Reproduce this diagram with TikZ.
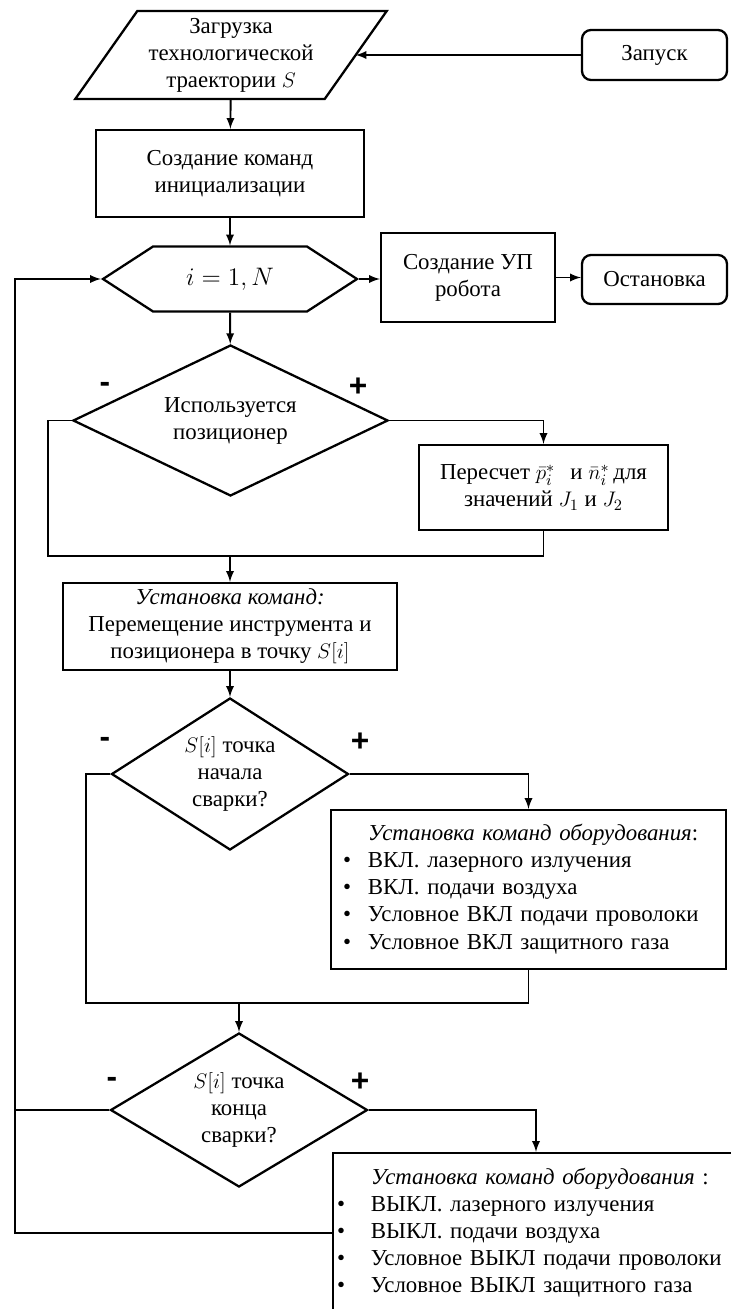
\documentclass[tikz,border=0pt]{standalone}
\usepackage{fontspec}
\setmainfont{Liberation Serif}
\newfontfamily\signfont{Liberation Sans}
\usetikzlibrary{shapes.geometric,shapes.symbols,positioning}

\begin{document}
\begin{tikzpicture}[font=\fontsize{13}{15.4}\selectfont,line width=1.1pt,every node/.style={align=center},block/.style={rectangle,draw,line width=1.3pt},term/.style={rectangle,draw,line width=1.3pt,rounded corners=0.18cm,minimum width=2.9cm},inout/.style={rectangle,minimum width=4.95cm,minimum height=1.72cm,inner sep=0pt},hexa/.style={signal,signal to=east and west,signal pointer angle=66,draw,line width=1.3pt,minimum width=5.08cm,minimum height=1.3cm},decision/.style={diamond,draw,line width=1.3pt,inner sep=0pt},sign/.style={font=\signfont\bfseries\fontsize{18}{18}\selectfont},edge/.style={draw,-latex}]
    \useasboundingbox (0,0) rectangle (14.6,-26.18);
    \node[inout] (load) at (4.62,-1.10) {Загрузка\\технологической\\траектории $S$};
    \draw[line width=1.3pt] ([xshift=0.62cm]load.north west) -- ([xshift=0.62cm]load.north east) -- ([xshift=-0.62cm]load.south east) -- ([xshift=-0.62cm]load.south west) -- cycle;
    \node[term,minimum height=1cm] (start) at (13.09,-1.10) {Запуск};
    \node[block,minimum width=5.36cm,minimum height=1.74cm] (init) at (4.60,-3.47) {Создание команд\\инициализации};
    \node[hexa] (loop) at (4.60,-5.58) {\fontsize{14}{17}\selectfont$i=1,N$};
    \node[block,minimum width=3.48cm,minimum height=1.78cm] (prog) at (9.36,-5.55) {Создание УП\\робота};
    \node[term,minimum height=0.98cm] (stop) at (13.09,-5.59) {Остановка};
    \node[decision,aspect=2.09,minimum width=6.3cm,minimum height=3.02cm] (q1) at (4.61,-8.41) {Используется\\позиционер};
    \node[block,minimum width=4.98cm,minimum height=1.7cm] (recalc) at (10.87,-9.75) {Пересчет $\bar{p}_i^{*}$\,\ \ и $\bar{n}_i^{*}$\,для\\значений $J_1$ и $J_2$};
    \node[block,minimum width=6.68cm,minimum height=1.74cm] (move) at (4.60,-12.53) {\textit{Установка команд:}\\Перемещение инструмента и\\позиционера в точку $S[i]$};
    \node[decision,aspect=1.56,minimum width=4.74cm,minimum height=3.04cm] (q2) at (4.60,-15.48) {$S[i]$ точка\\начала\\сварки?};
    \node[block,minimum width=7.9cm,minimum height=3.18cm,text width=7.42cm,inner xsep=0.24cm,align=left] (on) at (10.57,-17.79) {\begin{tabular}{@{}p{0.5cm}@{}l@{}}
        & \textit{Установка команд оборудования}:\\
        \textbullet & ВКЛ. лазерного излучения\\
        \textbullet & ВКЛ. подачи воздуха\\
        \textbullet & Условное ВКЛ подачи проволоки\\
        \textbullet & Условное ВКЛ защитного газа
    \end{tabular}};
    \node[decision,aspect=1.67,minimum width=5.14cm,minimum height=3.08cm] (q3) at (4.78,-22.2) {$S[i]$ точка\\конца\\сварки?};
    \node[block,minimum width=8.12cm,minimum height=3.2cm,text width=7.96cm,inner xsep=0.08cm,align=left] (off) at (10.72,-24.66) {\begin{tabular}{@{}p{0.68cm}@{}l@{}}
        & \textit{Установка команд оборудования} :\\
        \textbullet & ВЫКЛ. лазерного излучения\\
        \textbullet & ВЫКЛ. подачи воздуха\\
        \textbullet & Условное ВЫКЛ подачи проволоки\\
        \textbullet & Условное ВЫКЛ защитного газа
    \end{tabular}};
    \coordinate (merge1) at (4.60,-11.12);
    \coordinate (merge2) at (4.78,-20.06);
    \coordinate (rail) at (0.30,-22.2);
    \coordinate (back) at (0.30,-24.66);
    \node[sign] (minus1) at (2.10,-7.74) {-};
    \node[sign] (plus1) at (7.16,-7.74) {+};
    \node[sign] (minus2) at (2.10,-14.84) {-};
    \node[sign] (plus2) at (7.20,-14.84) {+};
    \node[sign] (minus3) at (2.24,-21.64) {-};
    \node[sign] (plus3) at (7.20,-21.64) {+};
    \draw[edge] (start) -- (load);
    \draw[edge] (load) -- (init);
    \draw[edge] (init) -- (loop);
    \draw[edge] (loop.east) -- (loop.east -| prog.west);
    \draw[edge] (prog.east) -- (prog.east -| stop.west);
    \draw[edge] (loop) -- (q1);
    \draw[edge] (q1.east) -| (recalc.north);
    \draw (q1.west) -- ++(-0.48,0) |- (merge1);
    \draw (recalc.south) |- (merge1);
    \draw[edge] (merge1) -- (move);
    \draw[edge] (move) -- (q2);
    \draw[edge] (q2.east) -| (on.north);
    \draw (q2.west) -- ++(-0.49,0) |- (merge2);
    \draw (on.south) |- (merge2);
    \draw[edge] (merge2) -- (q3);
    \draw[edge] (q3.east) -| (off.north);
    \draw (q3.west) -- (rail);
    \draw[edge] (off.west) -- (back) |- (loop.west);
\end{tikzpicture}
\end{document}
